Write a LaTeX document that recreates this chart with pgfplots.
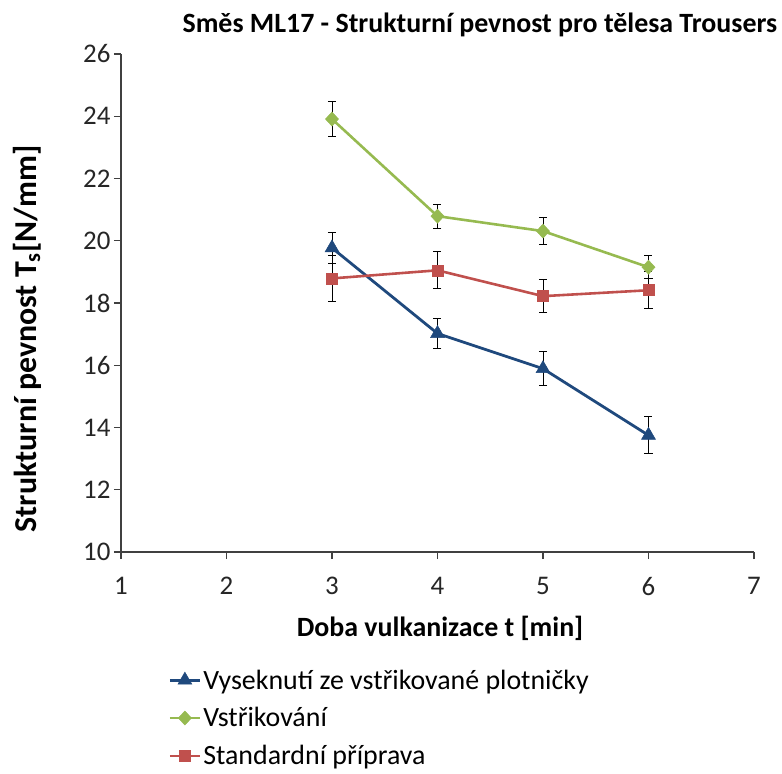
\documentclass[border=0pt]{standalone}
\usepackage{pgfplots}
\pgfplotsset{compat=1.18}
\usepackage{fontspec}
\setmainfont{Carlito}
\definecolor{cblue}{RGB}{31,73,125}
\definecolor{cgreen}{RGB}{150,186,80}
\definecolor{cred}{RGB}{192,80,77}
\definecolor{axcol}{RGB}{64,64,64}
\begin{document}
\begin{tikzpicture}
\begin{axis}[
  name=ax,
  scale only axis,
  width=633bp, height=498bp,
  xmin=1, xmax=7, ymin=10, ymax=26,
  xtick={1,...,7}, ytick={10,12,...,26},
  axis lines*=left,
  axis line style={axcol, line width=1.2pt},
  tick style={axcol, line width=1.2pt},
  tick align=outside,
  major tick length=7bp,
  /pgf/number format/assume math mode=true,
  ticklabel style={font=\fontsize{27}{32}\selectfont, text=black!85},
  xticklabel style={yshift=-15bp},
  xlabel={\textbf{Doba vulkanizace t [min]}},
  ylabel={\textbf{Strukturní pevnost T\textsubscript{s}[N/mm]}},
  xlabel style={font=\fontsize{28}{34}\selectfont, at={(axis description cs:0.504,-0.153)}, anchor=center},
  ylabel style={font=\fontsize{32}{38}\selectfont, at={(axis description cs:-0.148,0.428)}, anchor=center},
  title={\textbf{Směs ML17 - Strukturní pevnost pro tělesa Trousers}},
  title style={font=\fontsize{28}{34}\selectfont, at={(axis description cs:0.567,1.047)}, anchor=center},
  legend style={at={(axis description cs:0.07,-0.228)}, anchor=north west, draw=none,
    font=\fontsize{28}{34}\selectfont, row sep=13bp, cells={anchor=west}},
  legend cell align=left,
  legend image code/.code={
    \draw[#1, mark repeat=2, mark phase=2] plot coordinates {(0bp,0bp) (15bp,0bp) (30bp,0bp)};},
  clip=false,
]
\addplot[cblue, line width=2.8pt, mark=triangle*, mark size=8bp,
  mark options={solid, fill=cblue, line width=0.5pt},
  error bars/.cd, y dir=both, y explicit,
  error bar style={black, line width=1pt}, error mark options={rotate=90, black, line width=1pt, mark size=4bp}]
  table[y error index=2] {
  x y e
  3 19.77 0.50
  4 17.02 0.48
  5 15.89 0.55
  6 13.75 0.60
  };
\addlegendentry{Vyseknutí ze vstřikované plotničky}
\addplot[cgreen, line width=2.6pt, mark=diamond*, mark size=7bp,
  mark options={solid, fill=cgreen, line width=0.5pt, xscale=1.25},
  error bars/.cd, y dir=both, y explicit,
  error bar style={black, line width=1pt}, error mark options={rotate=90, black, line width=1pt, mark size=4bp}]
  table[y error index=2] {
  x y e
  3 23.91 0.55
  4 20.79 0.39
  5 20.31 0.43
  6 19.15 0.37
  };
\addlegendentry{Vstřikování}
\addplot[cred, line width=2.6pt, mark=square*, mark size=5.5bp,
  mark options={solid, fill=cred, line width=0.5pt},
  error bars/.cd, y dir=both, y explicit,
  error bar style={black, line width=1pt}, error mark options={rotate=90, black, line width=1pt, mark size=4bp}]
  table[y error index=2] {
  x y e
  3 18.79 0.75
  4 19.05 0.60
  5 18.22 0.53
  6 18.41 0.60
  };
\addlegendentry{Standardní příprava}
\end{axis}
\pgfresetboundingbox
\path[use as bounding box] ([shift={(-121bp,-222bp)}]ax.south west) rectangle ([shift={(661bp,552bp)}]ax.south west);
\end{tikzpicture}
\end{document}
